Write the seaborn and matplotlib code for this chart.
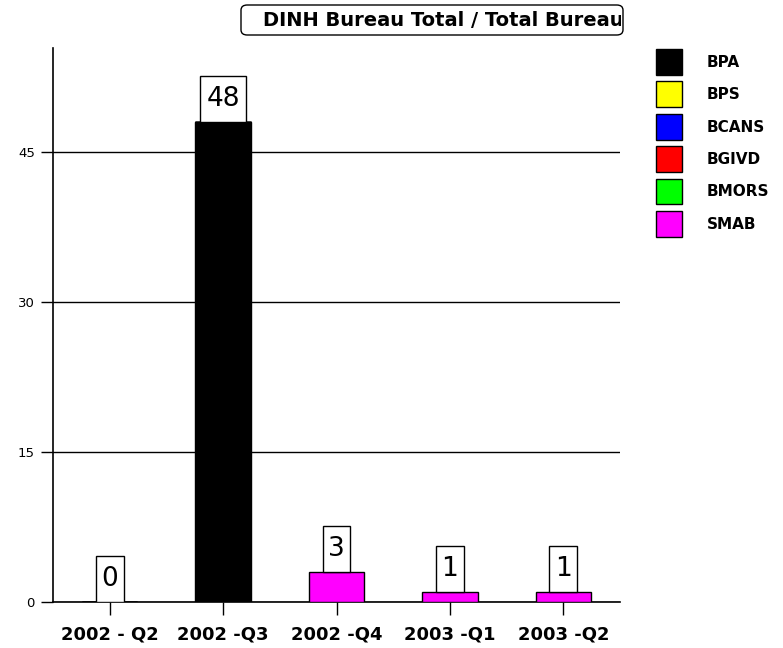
import matplotlib
matplotlib.use("Agg")
import matplotlib.pyplot as plt
import seaborn as sns
import pandas as pd
from matplotlib.patches import Patch, Rectangle, FancyBboxPatch
from matplotlib.transforms import Bbox, TransformedBbox

quarters = ["2002 - Q2", "2002 -Q3", "2002 -Q4", "2003 -Q1", "2003 -Q2"]
series = ["BPA", "BPS", "BCANS", "BGIVD", "BMORS", "SMAB"]
colors = ["#000000", "#ffff00", "#0000ff", "#ff0000", "#00ff00", "#ff00ff"]
bpa = [0, 48, 0, 0, 0]
bps = [0, 0, 0, 0, 0]
bcans = [0, 0, 0, 0, 0]
bgivd = [0, 0, 0, 0, 0]
bmors = [0, 0, 0, 0, 0]
smab = [0, 0, 3, 1, 1]
title = "DINH Bureau Total / Total Bureau"

sns.set_style("white")
plt.rcParams["font.family"] = ["DejaVu Sans"]
plt.rcParams["text.color"] = "black"
plt.rcParams["xtick.color"] = "black"
plt.rcParams["ytick.color"] = "black"

fig = plt.figure(figsize=(7.83, 6.48), dpi=100)
ax = fig.add_axes([53 / 783, 46 / 648, 567 / 783, 554 / 648])

values = [bpa, bps, bcans, bgivd, bmors, smab]
bottom = [0] * len(quarters)
for name, col, vals in zip(series, colors, values):
    df = pd.DataFrame({"quarter": quarters, "value": vals})
    sns.barplot(data=df, x="quarter", y="value", color=col, ax=ax,
                width=0.49, bottom=bottom, edgecolor="black", linewidth=1,
                saturation=1, zorder=3)
    bottom = [b + v for b, v in zip(bottom, vals)]

# total label boxes
for i, tot in enumerate(bottom):
    w = 0.09 + 0.155 * len(str(tot))
    ax.add_patch(Rectangle((i - w / 2, tot), w, 4.6, facecolor="white",
                           edgecolor="black", linewidth=1, zorder=4))
    ax.text(i, tot + 2.35, str(tot), ha="center", va="center",
            fontsize=19, zorder=5)

ax.set_xlim(-0.5, 4.5)
ax.set_ylim(0, 55.4)
ax.set_yticks([0, 15, 30, 45])
ax.yaxis.grid(True, color="black", linewidth=1)
ax.set_axisbelow(True)
for s in ["top", "right"]:
    ax.spines[s].set_visible(False)
for s in ["left", "bottom"]:
    ax.spines[s].set_color("black")
    ax.spines[s].set_linewidth(1.2)
ax.tick_params(axis="y", length=9, width=1, labelsize=9.5, pad=4, left=True)
ax.tick_params(axis="x", length=9, width=1, labelsize=13, pad=8, bottom=True)
for lbl in ax.get_xticklabels():
    lbl.set_fontweight("bold")
ax.set_xlabel("")
ax.set_ylabel("")

# title box
x0, x1 = 241 / 783, 623 / 783
y0, y1 = 1 - 35 / 648, 1 - 5 / 648
box = FancyBboxPatch((x0, y0), x1 - x0, y1 - y0,
                     boxstyle="round,pad=0,rounding_size=0.008",
                     transform=fig.transFigure, facecolor="white",
                     edgecolor="black", linewidth=1)
fig.patches.append(box)
t = fig.text(263 / 783, 1 - 20 / 648, title, ha="left", va="center",
             fontsize=14, fontweight="bold")
t.set_clip_on(True)
t.set_clip_box(TransformedBbox(Bbox([[x0, y0], [x1 - 0.002, y1]]),
                               fig.transFigure))

handles = [Patch(facecolor=c, edgecolor="black", linewidth=1) for c in colors]
fig.legend(handles, series, loc="upper left",
           bbox_to_anchor=(656 / 783, 1 - 49 / 648), frameon=False,
           prop={"weight": "bold", "size": 11}, handlelength=1.7,
           handleheight=2.2, labelspacing=0.45, handletextpad=1.6,
           borderpad=0, borderaxespad=0)

fig.savefig("out.png", dpi=100)
